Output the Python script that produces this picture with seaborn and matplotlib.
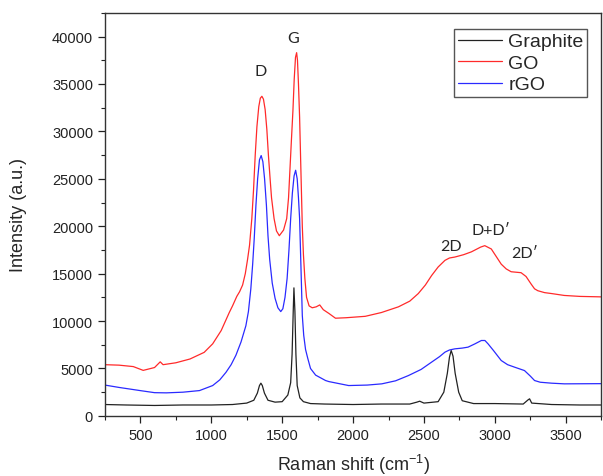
import pandas as pd
import matplotlib.pyplot as plt
import matplotlib.ticker as mticker
import seaborn as sns

sns.set_theme(style="ticks")
plt.rcParams["font.family"] = ["Liberation Sans", "DejaVu Sans"]
plt.rcParams["mathtext.default"] = "regular"

# data
graphite_x = [250, 400, 600, 800, 1000, 1150, 1250, 1300, 1325, 1340, 1350, 1360, 1375, 1400,
              1450, 1500, 1540, 1560, 1570, 1578, 1583, 1590, 1597, 1606, 1625, 1650, 1700,
              1800, 2000, 2200, 2400, 2450, 2470, 2500, 2600, 2640, 2665, 2680, 2692, 2705,
              2720, 2745, 2770, 2850, 3000, 3200, 3235, 3245, 3260, 3400, 3600, 3750]
graphite_y = [1200, 1150, 1100, 1150, 1150, 1200, 1350, 1650, 2400, 3200, 3450, 3200, 2400, 1650,
              1450, 1500, 2200, 3500, 6500, 11000, 13500, 11000, 6500, 3200, 1900, 1500, 1300,
              1250, 1200, 1250, 1250, 1450, 1550, 1350, 1500, 2500, 4500, 6200, 6900, 6300,
              4500, 2500, 1600, 1300, 1300, 1250, 1700, 1800, 1350, 1200, 1150, 1150]

go_x = [250, 350, 450, 520, 600, 640, 660, 750, 850, 950, 1010, 1070, 1127, 1150, 1180, 1200,
        1221, 1240, 1256, 1270, 1286, 1298, 1310, 1322, 1335, 1346, 1357, 1368, 1380, 1392,
        1403, 1415, 1425, 1443, 1460, 1480, 1510, 1532, 1545, 1555, 1565, 1576, 1585, 1594,
        1602, 1608, 1615, 1623, 1632, 1642, 1650, 1660, 1672, 1690, 1712, 1740, 1765, 1790,
        1830, 1876, 1950, 2086, 2200, 2320, 2400, 2460, 2510, 2554, 2600, 2648, 2680, 2718,
        2780, 2835, 2900, 2929, 2975, 3010, 3045, 3080, 3115, 3185, 3220, 3256, 3280, 3303,
        3350, 3400, 3490, 3600, 3750]
go_y = [5400, 5350, 5200, 4800, 5100, 5700, 5400, 5600, 6000, 6700, 7600, 9000, 10900, 11600,
        12600, 13100, 13800, 15000, 16500, 18000, 20800, 23800, 27500, 30500, 32600, 33500,
        33700, 33400, 32300, 30200, 27500, 25000, 23000, 20800, 19500, 19000, 19600, 20800,
        23000, 26000, 29000, 32200, 35500, 37800, 38300, 37500, 35000, 31500, 26000, 20000,
        17000, 14500, 12500, 11600, 11400, 11500, 11700, 11200, 10800, 10300, 10350, 10500,
        10900, 11500, 12100, 12900, 13800, 14800, 15700, 16400, 16650, 16750, 17000, 17300,
        17800, 17950, 17600, 16800, 16000, 15500, 15200, 15100, 14700, 13900, 13400, 13200,
        13000, 12900, 12700, 12600, 12550]

rgo_x = [250, 350, 507, 600, 683, 800, 917, 1010, 1060, 1104, 1140, 1174, 1210, 1244, 1262,
         1279, 1292, 1303, 1315, 1327, 1340, 1352, 1364, 1376, 1389, 1400, 1412, 1430, 1450,
         1470, 1490, 1505, 1520, 1535, 1548, 1560, 1572, 1584, 1595, 1606, 1615, 1623, 1632,
         1642, 1652, 1665, 1680, 1700, 1736, 1806, 1829, 1969, 2100, 2203, 2300, 2390, 2480,
         2554, 2610, 2648, 2680, 2718, 2770, 2811, 2860, 2905, 2930, 2952, 2990, 3045, 3090,
         3139, 3209, 3250, 3280, 3320, 3400, 3490, 3750]
rgo_y = [3250, 3000, 2650, 2450, 2430, 2500, 2670, 3200, 3800, 4600, 5400, 6400, 7800, 9500,
         11000, 13400, 16000, 18700, 22200, 25000, 27000, 27450, 26800, 25000, 22200, 19000,
         16500, 14000, 12400, 11400, 11000, 11300, 12500, 14500, 17500, 20800, 23500, 25300,
         25900, 25000, 23000, 20800, 16000, 10600, 8500, 7000, 6100, 5000, 4300, 3730, 3620,
         3200, 3250, 3380, 3700, 4250, 4900, 5670, 6250, 6720, 6950, 7070, 7150, 7250, 7600,
         7950, 7950, 7600, 6900, 5840, 5400, 5140, 4780, 4200, 3730, 3550, 3450, 3380, 3400]

peak_labels = ["D", "G", "2D", "D+D\u2032", "2D\u2032"]
peak_x = [1345, 1578, 2690, 2973, 3209]
peak_y = [36400, 39800, 17950, 19550, 17200]

df = pd.concat([
    pd.DataFrame({"shift": graphite_x, "intensity": graphite_y, "sample": "Graphite"}),
    pd.DataFrame({"shift": go_x, "intensity": go_y, "sample": "GO"}),
    pd.DataFrame({"shift": rgo_x, "intensity": rgo_y, "sample": "rGO"}),
])

fig = plt.figure(figsize=(6.03, 4.77), dpi=100)
ax = fig.add_axes([0.174, 0.126, 0.823, 0.845])

sns.lineplot(data=df, x="shift", y="intensity", hue="sample",
             palette={"Graphite": "#222222", "GO": "#ff2a2a", "rGO": "#2a2aff"},
             estimator=None, sort=False, linewidth=0.9, ax=ax)

for lab, px, py in zip(peak_labels, peak_x, peak_y):
    ax.text(px, py, lab, ha="center", va="center", fontsize=11.5,
            family=["Lato", "DejaVu Sans"])

ax.set_xlim(250, 3750)
ax.set_ylim(0, 42500)
ax.xaxis.set_major_locator(mticker.MultipleLocator(500))
ax.xaxis.set_minor_locator(mticker.MultipleLocator(250))
ax.yaxis.set_major_locator(mticker.MultipleLocator(5000))
ax.yaxis.set_minor_locator(mticker.MultipleLocator(2500))
ax.tick_params(which="major", direction="out", length=5, width=0.9, labelsize=10.5,
               colors="#222222")
ax.tick_params(which="minor", direction="out", length=3, width=0.8, colors="#222222")
for s in ax.spines.values():
    s.set_color("#333333")
    s.set_linewidth(1.0)

ax.set_xlabel(r"Raman shift (cm$^{-1}$)", fontsize=13, labelpad=7)
ax.set_ylabel("Intensity (a.u.)", fontsize=13, labelpad=18)

handles, labels = ax.get_legend_handles_labels()
ax.legend(handles, labels, loc="upper right", bbox_to_anchor=(0.972, 0.96),
          borderaxespad=0, fontsize=14, frameon=True, fancybox=False,
          edgecolor="#555555", framealpha=1, handlelength=2.3, handletextpad=0.3,
          labelspacing=0.2, borderpad=0.2)

plt.savefig("out.png", dpi=100)
